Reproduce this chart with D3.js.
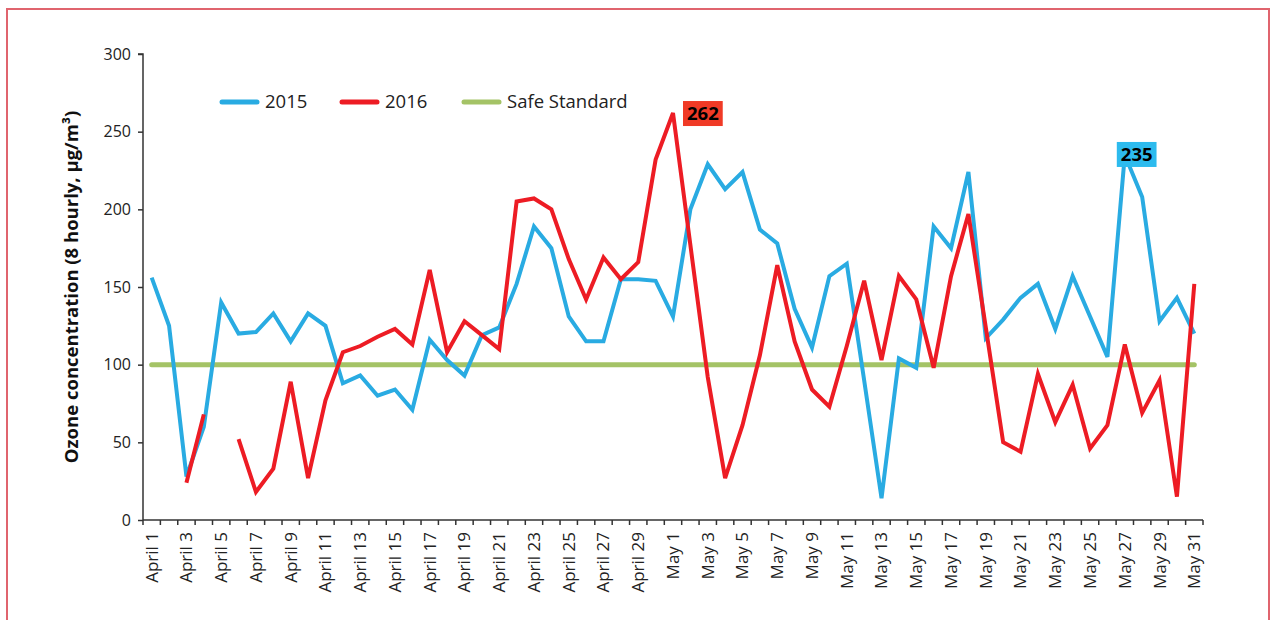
<!DOCTYPE html>
<html>
<head>
<meta charset="utf-8">
<script src="https://cdn.jsdelivr.net/npm/d3@7"></script>
<style>
  body { margin: 0; background: #fff; }
  svg { display: block; font-family: "Open Sans", "Noto Sans", sans-serif; }
</style>
</head>
<body>
<svg id="chart" width="1273" height="620"></svg>
<script>
// days on the x axis, April 1 .. May 31
var days = [];
for (var d = 1; d <= 30; d++) days.push("April " + d);
for (var d = 1; d <= 31; d++) days.push("May " + d);

var ozone2015 = [156,125,28,60,140,120,121,133,115,133,125,88,93,80,84,71,116,103,93,119,124,152,189,175,131,115,115,155,155,154,
                 131,200,229,213,224,187,178,136,111,157,165,90,14,104,98,189,175,224,117,129,143,152,123,157,131,105,235,208,128,143,120];
var ozone2016 = [null,null,24,68,null,52,18,33,89,27,77,108,112,118,123,113,161,108,128,119,110,205,207,200,168,142,169,155,166,232,
                 262,177,92,27,61,106,164,115,84,73,112,154,103,157,142,98,157,197,124,50,44,94,63,87,46,61,113,69,90,15,152];
var safeStandard = days.map(function() { return 100; });

var yTicks = [0, 50, 100, 150, 200, 250, 300];
var seriesNames = ["2015", "2016", "Safe Standard"];
var seriesColors = ["#29abe2", "#ed1c24", "#a4c366"];

// callouts: series index, day
var callouts = [
    { series: 1, day: "May 1", fill: "#f03a26", dx: 10, dy: -12 },
    { series: 0, day: "May 27", fill: "#2dbbee", dx: -8, dy: -13 }
];

var svg = d3.select("#chart");

// outer frame
svg.append("rect")
    .attr("x", 7).attr("y", 9)
    .attr("width", 1262).attr("height", 640)
    .attr("fill", "none")
    .attr("stroke", "#e0646e")
    .attr("stroke-width", 2);

var x = d3.scaleBand().domain(days).range([143, 1203]).padding(0);
var y = d3.scaleLinear().domain([0, 300]).range([520, 54]);

function cx(d) { return x(d) + x.bandwidth() / 2; }

// y axis
var yAxis = d3.axisLeft(y).tickValues(yTicks).tickSize(5).tickPadding(7);
var gy = svg.append("g").attr("transform", "translate(143,0)").call(yAxis);
gy.select(".domain").attr("stroke", "#333").attr("stroke-width", 1.5).attr("d", "M-5,54H0V520");
gy.selectAll(".tick line").attr("stroke", "#333").attr("stroke-width", 1.5);
gy.selectAll(".tick text").attr("fill", "#222").style("font-size", "16px").style("font-family", "'Open Sans', sans-serif");

// x axis
var xAxis = d3.axisBottom(x).tickSize(0).tickPadding(0)
    .tickFormat(function(d, i) { return i % 2 == 0 ? d : ""; });
var gx = svg.append("g").attr("transform", "translate(0,520)").call(xAxis);
gx.select(".domain").attr("stroke", "#333").attr("stroke-width", 1.5).attr("d", "M143,0H1203");
gx.selectAll(".tick text")
    .attr("fill", "#222")
    .style("font-size", "17px")
    .style("font-family", "'Open Sans', sans-serif")
    .attr("text-anchor", "end")
    .attr("dy", "0.35em")
    .attr("transform", "translate(0,12) rotate(-90)");

// tick marks on the band edges
var edges = days.map(function(d) { return x(d); }).concat([x.range()[1]]);
gx.selectAll(".edge")
    .data(edges)
    .enter()
    .append("line")
    .attr("class", "edge")
    .attr("x1", function(d) { return d; })
    .attr("x2", function(d) { return d; })
    .attr("y1", 0).attr("y2", 5)
    .attr("stroke", "#333")
    .attr("stroke-width", 1.5);

// y title
svg.append("text")
    .attr("transform", "translate(78,287) rotate(-90)")
    .attr("text-anchor", "middle")
    .attr("fill", "#111")
    .style("font-size", "18.5px")
    .style("font-weight", "bold")
    .text("Ozone concentration (8 hourly, µg/m³)");

var allSeries = [ozone2015, ozone2016, safeStandard];

var line = d3.line()
    .defined(function(d) { return d != null; })
    .x(function(d, i) { return cx(days[i]); })
    .y(function(d) { return y(d); });

// safe standard first, then 2015, then 2016 on top
[2, 0, 1].forEach(function(s) {
    svg.append("path")
        .datum(allSeries[s])
        .attr("d", line)
        .attr("fill", "none")
        .attr("stroke", seriesColors[s])
        .attr("stroke-width", s == 2 ? 5 : 4)
        .attr("stroke-linejoin", "miter")
        .attr("stroke-linecap", s == 2 ? "round" : "butt");
});

// legend
var legendX = [222, 342, 464];
var legend = svg.selectAll(".legend")
    .data(seriesNames)
    .enter()
    .append("g")
    .attr("class", "legend")
    .attr("transform", function(d, i) { return "translate(" + legendX[i] + ",102)"; });

legend.append("line")
    .attr("x1", 0).attr("x2", 35)
    .attr("y1", 0).attr("y2", 0)
    .attr("stroke", function(d, i) { return seriesColors[i]; })
    .attr("stroke-width", 5)
    .attr("stroke-linecap", "round");

legend.append("text")
    .attr("x", 43)
    .attr("dy", "0.35em")
    .attr("fill", "#222")
    .style("font-size", "18.5px")
    .text(function(d) { return d; });

// callouts
callouts.forEach(function(c) {
    var i = days.indexOf(c.day);
    var v = allSeries[c.series][i];
    var px = cx(c.day) + c.dx, py = y(v) + c.dy;
    var g = svg.append("g").attr("transform", "translate(" + px + "," + py + ")");
    var t = g.append("text")
        .attr("x", 4)
        .attr("y", 12.5)
        .attr("dy", "0.35em")
        .attr("fill", "#000")
        .style("font-size", "18.5px")
        .style("font-weight", "bold")
        .text(v);
    var w = t.node().getComputedTextLength() + 8;
    g.insert("rect", "text")
        .attr("width", w)
        .attr("height", 25)
        .attr("fill", c.fill);
});
</script>
</body>
</html>
